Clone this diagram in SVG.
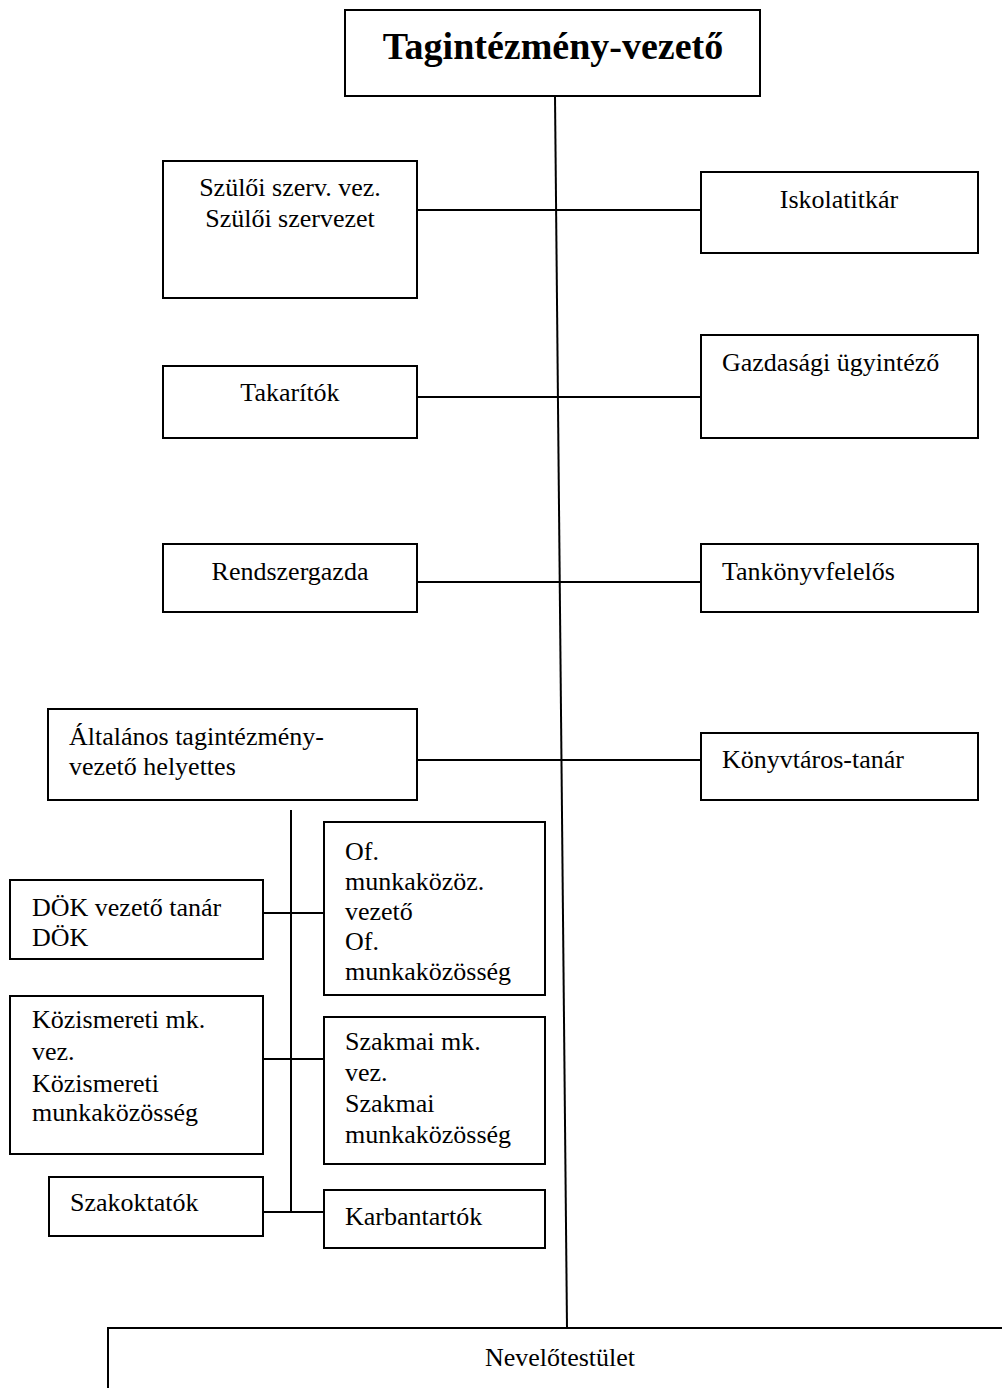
<svg xmlns="http://www.w3.org/2000/svg" width="1002" height="1388" viewBox="0 0 1002 1388">
<style>
.box{fill:#fff;stroke:#000;stroke-width:2}
.ln{stroke:#000;stroke-width:2;fill:none}
text{font-family:"Liberation Serif","Times New Roman",serif;font-size:26px;fill:#000}
.c{text-anchor:middle}
.title{font-size:38px;font-weight:bold}
</style>
<rect width="1002" height="1388" fill="#fff"/>
<g id="connectors">
<line class="ln" x1="555" y1="96" x2="567" y2="1328"/>
<line class="ln" x1="417" y1="210" x2="701" y2="210"/>
<line class="ln" x1="417" y1="397" x2="701" y2="397"/>
<line class="ln" x1="417" y1="582" x2="701" y2="582"/>
<line class="ln" x1="417" y1="760" x2="701" y2="760"/>
<line class="ln" x1="291" y1="810" x2="291" y2="1212"/>
<line class="ln" x1="263" y1="913" x2="324" y2="913"/>
<line class="ln" x1="263" y1="1059" x2="324" y2="1059"/>
<line class="ln" x1="263" y1="1212" x2="324" y2="1212"/>
</g>
<g id="tagintezmeny-vezeto">
<rect class="box" x="345" y="10" width="415" height="86"/>
<text class="c title" x="553" y="59">Tagintézmény-vezető</text>
</g>
<g id="szuloi">
<rect class="box" x="163" y="161" width="254" height="137"/>
<text class="c" x="290" y="196">Szülői szerv. vez.</text>
<text class="c" x="290" y="227">Szülői szervezet</text>
</g>
<g id="iskolatitkar">
<rect class="box" x="701" y="172" width="277" height="81"/>
<text class="c" x="839" y="208">Iskolatitkár</text>
</g>
<g id="takaritok">
<rect class="box" x="163" y="366" width="254" height="72"/>
<text class="c" x="290" y="401">Takarítók</text>
</g>
<g id="gazdasagi">
<rect class="box" x="701" y="335" width="277" height="103"/>
<text x="722" y="371">Gazdasági ügyintéző</text>
</g>
<g id="rendszergazda">
<rect class="box" x="163" y="544" width="254" height="68"/>
<text class="c" x="290" y="580">Rendszergazda</text>
</g>
<g id="tankonyvfelelos">
<rect class="box" x="701" y="544" width="277" height="68"/>
<text x="722" y="580">Tankönyvfelelős</text>
</g>
<g id="altalanos">
<rect class="box" x="48" y="709" width="369" height="91"/>
<text x="69" y="745">Általános tagintézmény-</text>
<text x="69" y="775">vezető helyettes</text>
</g>
<g id="konyvtaros">
<rect class="box" x="701" y="733" width="277" height="67"/>
<text x="722" y="768">Könyvtáros-tanár</text>
</g>
<g id="dok">
<rect class="box" x="10" y="880" width="253" height="79"/>
<text x="32" y="916">DÖK vezető tanár</text>
<text x="32" y="946">DÖK</text>
</g>
<g id="of">
<rect class="box" x="324" y="822" width="221" height="173"/>
<text x="345" y="860">Of.</text>
<text x="345" y="890">munkaközöz.</text>
<text x="345" y="920">vezető</text>
<text x="345" y="950">Of.</text>
<text x="345" y="980">munkaközösség</text>
</g>
<g id="kozismereti">
<rect class="box" x="10" y="996" width="253" height="158"/>
<text x="32" y="1028">Közismereti mk.</text>
<text x="32" y="1060">vez.</text>
<text x="32" y="1092">Közismereti</text>
<text x="32" y="1121">munkaközösség</text>
</g>
<g id="szakmai">
<rect class="box" x="324" y="1017" width="221" height="147"/>
<text x="345" y="1050">Szakmai mk.</text>
<text x="345" y="1081">vez.</text>
<text x="345" y="1112">Szakmai</text>
<text x="345" y="1143">munkaközösség</text>
</g>
<g id="szakoktatok">
<rect class="box" x="49" y="1177" width="214" height="59"/>
<text x="70" y="1211">Szakoktatók</text>
</g>
<g id="karbantartok">
<rect class="box" x="324" y="1190" width="221" height="58"/>
<text x="345" y="1225">Karbantartók</text>
</g>
<g id="nevelotestulet">
<rect class="box" x="108" y="1328" width="1000" height="100"/>
<text class="c" x="560" y="1366">Nevelőtestület</text>
</g>
</svg>
